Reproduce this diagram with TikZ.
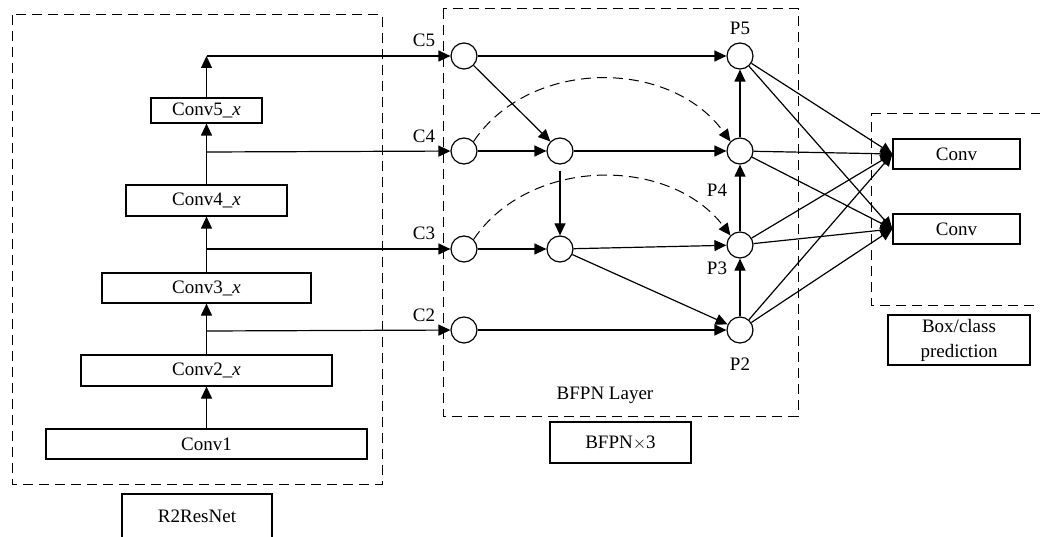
\documentclass[tikz,border=0pt]{standalone}
\usepackage{fontspec}
\setmainfont{Liberation Serif}
\usetikzlibrary{arrows.meta}
\begin{document}
\begin{tikzpicture}[x=1pt,y=-1pt,
  font=\fontsize{19}{22}\selectfont,
  line width=1.2pt,
  block/.style={draw, rectangle, inner sep=0pt},
  fnode/.style={draw, circle, minimum size=26pt, inner sep=0pt},
  tag/.style={inner sep=0pt},
  arr/.style={-{Triangle[length=12pt,width=11pt]}},
  group/.style={draw, line width=1pt, dash pattern=on 10pt off 6pt},
  dasharr/.style={arr, line width=1pt, dash pattern=on 10pt off 6pt}
]
\useasboundingbox (0,0) rectangle (1040,537);

% ---------------- backbone ----------------
\draw[group] (12,15) rectangle (382,484);
\node[block, minimum width=150pt, minimum height=50pt] (r2) at (197,519) {};
\node[tag] (r2t) at (197,516) {R2ResNet};

\node[block, minimum width=321pt, minimum height=30pt] (cv1) at (206.5,444) {Conv1};
\node[block, minimum width=251pt, minimum height=31pt] (cv2) at (206.5,370.5) {Conv2\_\textit{x}};
\node[block, minimum width=209pt, minimum height=30pt] (cv3) at (206.5,288) {Conv3\_\textit{x}};
\node[block, minimum width=161pt, minimum height=31pt] (cv4) at (206.5,200.5) {Conv4\_\textit{x}};
\node[block, minimum width=111pt, minimum height=25pt] (cv5) at (206.5,110.5) {Conv5\_\textit{x}};

\draw[arr] (cv1) -- (cv2);
\draw[arr] (cv2) -- (cv3);
\draw[arr] (cv3) -- (cv4);
\draw[arr] (cv4) -- (cv5);

\coordinate (j5) at (206.5,56);
\coordinate (j4) at (206.5,152);
\coordinate (j3) at (206.5,249);
\coordinate (j2) at (206.5,331);
\draw[arr] (cv5.north) -- (j5);

% ---------------- BFPN layer ----------------
\draw[group] (443,9) rectangle (798,416);
\node[tag] (bl) at (605,395) {BFPN Layer};
\node[block, minimum width=141pt, minimum height=41pt] (bx3) at (620.5,442.5) {BFPN$\times$3};

\node[fnode] (C5) at (464,56) {};
\node[fnode] (C4) at (464,151) {};
\node[fnode] (C3) at (464,249) {};
\node[fnode] (C2) at (464,330) {};
\node[fnode] (M4) at (560,151) {};
\node[fnode] (M3) at (560,249) {};
\node[fnode] (P5) at (740,56) {};
\node[fnode] (P4) at (740,151) {};
\node[fnode] (P3) at (740,245) {};
\node[fnode] (P2) at (740,330) {};

\node[tag] at (424,40) {C5};
\node[tag] at (424,136) {C4};
\node[tag] at (424,233) {C3};
\node[tag] at (424,315) {C2};
\node[tag] at (740,28) {P5};
\node[tag] at (717,190) {P4};
\node[tag] at (717,268) {P3};
\node[tag] at (740,364) {P2};

% backbone outputs into the layer
\draw[arr] (j5) -- (C5);
\draw[arr] (j4) -- (C4);
\draw[arr] (j3) -- (C3);
\draw[arr] (j2) -- (C2);

% top-down and bottom-up paths
\draw[arr] (C5) -- (P5);
\draw[arr] (C5) -- (M4);
\draw[arr] (C4) -- (M4);
\draw[arr] (M4) -- (P4);
\draw[arr, shorten <=6pt] (M4) -- (M3);
\draw[arr] (C3) -- (M3);
\draw[arr] (M3) -- (P3);
\draw[arr] (M3) -- (P2);
\draw[arr] (C2) -- (P2);
\draw[arr] (P2) -- (P3);
\draw[arr] (P3) -- (P4);
\draw[arr] (P4) -- (P5);

% skip connections
\draw[dasharr] (C4.north east) .. controls (530,58) and (670,58) .. (P4.north west);
\draw[dasharr] (C3.north east) .. controls (530,156) and (670,156) .. (P3.north west);

% ---------------- prediction head ----------------
\draw[group] (871,114) -- (1050,114) (1050,305) -- (871,305) -- (871,114);
\node[block, minimum width=127pt, minimum height=30pt] (h1) at (956.5,154) {Conv};
\node[block, minimum width=127pt, minimum height=30pt] (h2) at (956.5,229) {Conv};
\node[block, minimum width=142pt, minimum height=50pt, align=center,
      font=\fontsize{19}{25}\selectfont] (bc) at (959,340) {Box/class\\prediction};

\foreach \p in {P5,P4,P3,P2} {
  \draw[arr] (\p) -- (h1.west);
  \draw[arr] (\p) -- (h2.west);
}
\end{tikzpicture}
\end{document}
